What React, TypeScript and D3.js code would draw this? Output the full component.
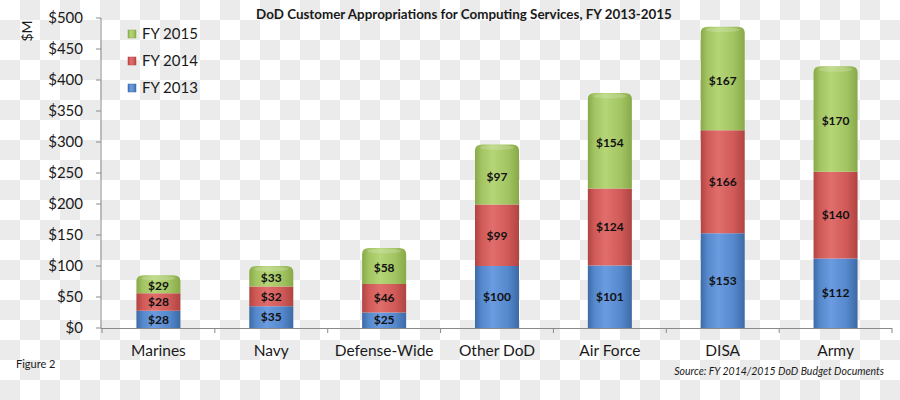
import React from "react";
import * as d3 from "d3";

const categories = ["Marines", "Navy", "Defense-Wide", "Other DoD", "Air Force", "DISA", "Army"];
const fy2013 = [28, 35, 25, 100, 101, 153, 112];
const fy2014 = [28, 32, 46, 99, 124, 166, 140];
const fy2015 = [29, 33, 58, 97, 154, 167, 170];
const seriesNames = ["FY 2013", "FY 2014", "FY 2015"];
const yTicks = [0, 50, 100, 150, 200, 250, 300, 350, 400, 450, 500];

const W = 900;
const H = 400;
const FONT = "Lato, 'Open Sans', sans-serif";

const colors = [
  { edge: "#3d6aa6", mid: "#6b9be0", base: "#5588cc" },
  { edge: "#b04442", mid: "#e06e6c", base: "#d05a57" },
  { edge: "#87a948", mid: "#b5d577", base: "#a2c462" },
];

export default function App() {
  const y = d3.scaleLinear().domain([0, 500]).range([328, 18]);
  const x = d3
    .scaleBand<string>()
    .domain(categories)
    .range([102, 892])
    .paddingInner(0.61)
    .paddingOuter(0.305);
  const step = x.step();
  const bw = x.bandwidth();

  const data = categories.map((c, i) => ({ c, vals: [fy2013[i], fy2014[i], fy2015[i]] }));
  const stack = d3.stack<any>().keys(["0", "1", "2"]).value((d: any, k: string) => d.vals[+k]);
  const stacked = stack(data as any);

  const checks: JSX.Element[] = [];
  for (let i = 0; i < W / 20; i++) {
    for (let j = 0; j < H / 20; j++) {
      if ((i + j) % 2 === 1) {
        checks.push(<rect key={`c${i}-${j}`} x={i * 20} y={j * 20} width={20} height={20} fill="#ebebeb" />);
      }
    }
  }

  const rx = 7;
  const ry = 6;

  return (
    <svg width={W} height={H} style={{ position: "absolute", left: 0, top: 0 }} fontFamily={FONT}>
      <defs>
        {colors.map((c, k) => (
          <linearGradient key={k} id={`g${k}`} x1="0" x2="1" y1="0" y2="0">
            <stop offset="0" stopColor={c.edge} />
            <stop offset="0.15" stopColor={c.base} />
            <stop offset="0.4" stopColor={c.mid} />
            <stop offset="0.75" stopColor={c.base} />
            <stop offset="1" stopColor={c.edge} />
          </linearGradient>
        ))}
      </defs>
      <rect width={W} height={H} fill="#ffffff" />
      {checks}

      <text x={464} y={19} textAnchor="middle" fontSize={13.4} fontWeight="bold" fill="#1a1a1a">
        DoD Customer Appropriations for Computing Services, FY 2013-2015
      </text>

      <line x1={101} x2={101} y1={y(500)} y2={y(0)} stroke="#8a8a8a" strokeWidth={1} />
      {yTicks.map((t) => (
        <g key={t}>
          <line x1={96} x2={101} y1={y(t)} y2={y(t)} stroke="#8a8a8a" />
          <text x={83} y={y(t)} dy="0.35em" textAnchor="end" fontSize={15} fill="#1a1a1a">
            {"$" + t}
          </text>
        </g>
      ))}
      <text transform="translate(32,31) rotate(-90)" textAnchor="middle" fontSize={14} fill="#1a1a1a">
        $M
      </text>

      <line x1={101} x2={892} y1={y(0) + 0.5} y2={y(0) + 0.5} stroke="#8a8a8a" />
      {d3.range(categories.length + 1).map((i) => {
        const xx = 102 + i * step;
        return <line key={i} x1={xx} x2={xx} y1={y(0)} y2={y(0) + 5} stroke="#8a8a8a" />;
      })}
      {categories.map((c) => (
        <text key={c} x={(x(c) as number) + bw / 2} y={356} textAnchor="middle" fontSize={15.5} fill="#1a1a1a">
          {c}
        </text>
      ))}

      {stacked.map((layer, k) =>
        layer.map((d: any, i: number) => {
          const c = categories[i];
          const x0 = x(c) as number;
          const x1 = x0 + bw;
          const yb = y(d[0]);
          const yt = y(d[1]);
          const isTop = k === stacked.length - 1;
          const path = isTop
            ? `M${x0},${yb}L${x0},${yt + ry}Q${x0},${yt} ${x0 + rx},${yt}L${x1 - rx},${yt}Q${x1},${yt} ${x1},${yt + ry}L${x1},${yb}Z`
            : `M${x0},${yb}L${x0},${yt}L${x1},${yt}L${x1},${yb}Z`;
          const v = d[1] - d[0];
          return (
            <g key={`${k}-${i}`}>
              <path d={path} fill={`url(#g${k})`} />
              {isTop && (
                <ellipse cx={x0 + bw / 2} cy={yt + 3} rx={bw / 2 - 5} ry={2.5} fill="#ffffff" opacity={0.18} />
              )}
              <text
                x={x0 + bw / 2}
                y={(yb + yt) / 2 + (isTop ? 2 : 0)}
                dy="0.35em"
                textAnchor="middle"
                fontSize={12}
                fontWeight="bold"
                fill="#111111"
              >
                {"$" + v}
              </text>
            </g>
          );
        })
      )}

      {[2, 1, 0].map((k, r) => (
        <g key={k}>
          <rect x={128} y={30 + r * 27} width={8} height={8} fill={`url(#g${k})`} stroke={colors[k].edge} strokeWidth={0.5} />
          <text x={142} y={34 + r * 27} dy="0.35em" fontSize={15} fill="#1a1a1a">
            {seriesNames[k]}
          </text>
        </g>
      ))}

      <text x={16} y={368} fontSize={11} fill="#1a1a1a">
        Figure 2
      </text>
      <text x={884} y={375} textAnchor="end" fontSize={10.5} fontStyle="italic" fill="#1a1a1a">
        Source: FY 2014/2015 DoD Budget Documents
      </text>
    </svg>
  );
}
